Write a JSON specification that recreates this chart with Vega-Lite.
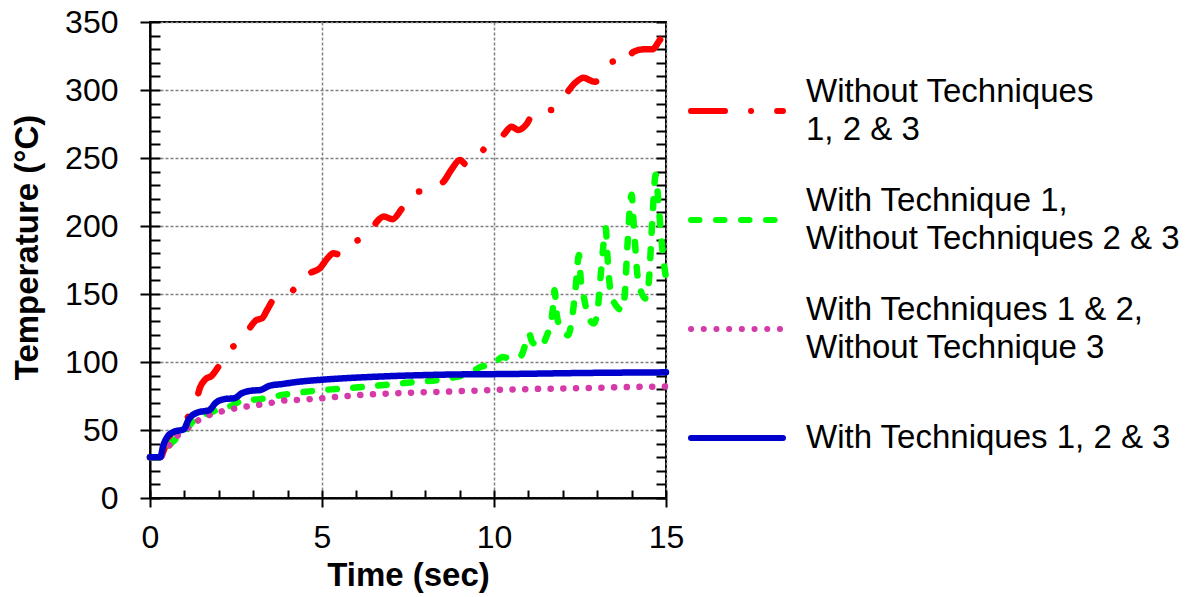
{
  "$schema": "https://vega.github.io/schema/vega-lite/v6.json",
  "autosize": {"type": "none"},
  "padding": {"left": 150, "top": 22, "right": 527, "bottom": 99},
  "width": 516,
  "height": 476,
  "background": "white",
  "config": {
    "view": {"stroke": "black", "strokeWidth": 2},
    "font": "Liberation Sans",
    "axis": {"labelFont": "Liberation Sans", "titleFont": "Liberation Sans", "labelColor": "black", "titleColor": "black", "tickColor": "black", "domainColor": "black"}
  },
  "data": {
    "values": [
      {"series": "Without Techniques 1, 2 & 3", "t": 0, "temp": 30},
      {"series": "Without Techniques 1, 2 & 3", "t": 0.3, "temp": 30},
      {"series": "Without Techniques 1, 2 & 3", "t": 0.4, "temp": 35},
      {"series": "Without Techniques 1, 2 & 3", "t": 0.5, "temp": 42},
      {"series": "Without Techniques 1, 2 & 3", "t": 0.65, "temp": 48},
      {"series": "Without Techniques 1, 2 & 3", "t": 0.8, "temp": 52},
      {"series": "Without Techniques 1, 2 & 3", "t": 1.0, "temp": 57},
      {"series": "Without Techniques 1, 2 & 3", "t": 1.2, "temp": 63},
      {"series": "Without Techniques 1, 2 & 3", "t": 1.35, "temp": 72},
      {"series": "Without Techniques 1, 2 & 3", "t": 1.45, "temp": 81},
      {"series": "Without Techniques 1, 2 & 3", "t": 1.6, "temp": 87},
      {"series": "Without Techniques 1, 2 & 3", "t": 1.8, "temp": 90},
      {"series": "Without Techniques 1, 2 & 3", "t": 2.0, "temp": 97},
      {"series": "Without Techniques 1, 2 & 3", "t": 2.23, "temp": 107},
      {"series": "Without Techniques 1, 2 & 3", "t": 2.45, "temp": 112},
      {"series": "Without Techniques 1, 2 & 3", "t": 2.71, "temp": 117},
      {"series": "Without Techniques 1, 2 & 3", "t": 2.9, "temp": 125},
      {"series": "Without Techniques 1, 2 & 3", "t": 3.1, "temp": 131},
      {"series": "Without Techniques 1, 2 & 3", "t": 3.25, "temp": 132},
      {"series": "Without Techniques 1, 2 & 3", "t": 3.42, "temp": 139},
      {"series": "Without Techniques 1, 2 & 3", "t": 3.6, "temp": 146},
      {"series": "Without Techniques 1, 2 & 3", "t": 3.97, "temp": 148.5},
      {"series": "Without Techniques 1, 2 & 3", "t": 4.2, "temp": 154},
      {"series": "Without Techniques 1, 2 & 3", "t": 4.41, "temp": 162},
      {"series": "Without Techniques 1, 2 & 3", "t": 4.7, "temp": 166},
      {"series": "Without Techniques 1, 2 & 3", "t": 4.94, "temp": 169},
      {"series": "Without Techniques 1, 2 & 3", "t": 5.15, "temp": 176},
      {"series": "Without Techniques 1, 2 & 3", "t": 5.33, "temp": 180},
      {"series": "Without Techniques 1, 2 & 3", "t": 5.52, "temp": 179},
      {"series": "Without Techniques 1, 2 & 3", "t": 5.81, "temp": 187},
      {"series": "Without Techniques 1, 2 & 3", "t": 6.1, "temp": 190},
      {"series": "Without Techniques 1, 2 & 3", "t": 6.36, "temp": 193},
      {"series": "Without Techniques 1, 2 & 3", "t": 6.59, "temp": 203},
      {"series": "Without Techniques 1, 2 & 3", "t": 6.8, "temp": 207},
      {"series": "Without Techniques 1, 2 & 3", "t": 7.05, "temp": 205},
      {"series": "Without Techniques 1, 2 & 3", "t": 7.3, "temp": 212},
      {"series": "Without Techniques 1, 2 & 3", "t": 7.52, "temp": 221},
      {"series": "Without Techniques 1, 2 & 3", "t": 7.75, "temp": 225},
      {"series": "Without Techniques 1, 2 & 3", "t": 8.02, "temp": 226},
      {"series": "Without Techniques 1, 2 & 3", "t": 8.25, "temp": 229},
      {"series": "Without Techniques 1, 2 & 3", "t": 8.53, "temp": 232.6},
      {"series": "Without Techniques 1, 2 & 3", "t": 8.75, "temp": 241},
      {"series": "Without Techniques 1, 2 & 3", "t": 9.01, "temp": 248.5},
      {"series": "Without Techniques 1, 2 & 3", "t": 9.2, "temp": 245},
      {"series": "Without Techniques 1, 2 & 3", "t": 9.4, "temp": 246.6},
      {"series": "Without Techniques 1, 2 & 3", "t": 9.6, "temp": 253},
      {"series": "Without Techniques 1, 2 & 3", "t": 9.83, "temp": 260},
      {"series": "Without Techniques 1, 2 & 3", "t": 10.05, "temp": 263},
      {"series": "Without Techniques 1, 2 & 3", "t": 10.27, "temp": 267},
      {"series": "Without Techniques 1, 2 & 3", "t": 10.51, "temp": 273},
      {"series": "Without Techniques 1, 2 & 3", "t": 10.71, "temp": 270.6},
      {"series": "Without Techniques 1, 2 & 3", "t": 10.95, "temp": 275},
      {"series": "Without Techniques 1, 2 & 3", "t": 11.14, "temp": 283},
      {"series": "Without Techniques 1, 2 & 3", "t": 11.4, "temp": 285},
      {"series": "Without Techniques 1, 2 & 3", "t": 11.67, "temp": 285.3},
      {"series": "Without Techniques 1, 2 & 3", "t": 11.85, "temp": 290},
      {"series": "Without Techniques 1, 2 & 3", "t": 12.06, "temp": 296},
      {"series": "Without Techniques 1, 2 & 3", "t": 12.35, "temp": 305},
      {"series": "Without Techniques 1, 2 & 3", "t": 12.6, "temp": 309},
      {"series": "Without Techniques 1, 2 & 3", "t": 12.93, "temp": 306},
      {"series": "Without Techniques 1, 2 & 3", "t": 13.1, "temp": 309},
      {"series": "Without Techniques 1, 2 & 3", "t": 13.23, "temp": 313.5},
      {"series": "Without Techniques 1, 2 & 3", "t": 13.47, "temp": 321},
      {"series": "Without Techniques 1, 2 & 3", "t": 13.75, "temp": 318.4},
      {"series": "Without Techniques 1, 2 & 3", "t": 14.05, "temp": 328},
      {"series": "Without Techniques 1, 2 & 3", "t": 14.35, "temp": 330},
      {"series": "Without Techniques 1, 2 & 3", "t": 14.61, "temp": 330},
      {"series": "Without Techniques 1, 2 & 3", "t": 14.8, "temp": 336},
      {"series": "Without Techniques 1, 2 & 3", "t": 15, "temp": 343},

      {"series": "With Technique 1, Without Techniques 2 & 3", "t": 0, "temp": 30},
      {"series": "With Technique 1, Without Techniques 2 & 3", "t": 0.3, "temp": 30},
      {"series": "With Technique 1, Without Techniques 2 & 3", "t": 0.4, "temp": 33},
      {"series": "With Technique 1, Without Techniques 2 & 3", "t": 0.54, "temp": 38},
      {"series": "With Technique 1, Without Techniques 2 & 3", "t": 0.79, "temp": 44.4},
      {"series": "With Technique 1, Without Techniques 2 & 3", "t": 1.08, "temp": 50.5},
      {"series": "With Technique 1, Without Techniques 2 & 3", "t": 1.2, "temp": 55},
      {"series": "With Technique 1, Without Techniques 2 & 3", "t": 1.38, "temp": 59},
      {"series": "With Technique 1, Without Techniques 2 & 3", "t": 1.77, "temp": 62.8},
      {"series": "With Technique 1, Without Techniques 2 & 3", "t": 2.11, "temp": 66.5},
      {"series": "With Technique 1, Without Techniques 2 & 3", "t": 2.36, "temp": 67.8},
      {"series": "With Technique 1, Without Techniques 2 & 3", "t": 2.66, "temp": 71.5},
      {"series": "With Technique 1, Without Techniques 2 & 3", "t": 3.2, "temp": 72.7},
      {"series": "With Technique 1, Without Techniques 2 & 3", "t": 3.84, "temp": 75.7},
      {"series": "With Technique 1, Without Techniques 2 & 3", "t": 4.82, "temp": 78.9},
      {"series": "With Technique 1, Without Techniques 2 & 3", "t": 5.8, "temp": 80.8},
      {"series": "With Technique 1, Without Techniques 2 & 3", "t": 6.59, "temp": 82.6},
      {"series": "With Technique 1, Without Techniques 2 & 3", "t": 7.57, "temp": 85},
      {"series": "With Technique 1, Without Techniques 2 & 3", "t": 8.56, "temp": 87.5},
      {"series": "With Technique 1, Without Techniques 2 & 3", "t": 9.3, "temp": 92},
      {"series": "With Technique 1, Without Techniques 2 & 3", "t": 9.61, "temp": 96.3},
      {"series": "With Technique 1, Without Techniques 2 & 3", "t": 10.0, "temp": 98.8},
      {"series": "With Technique 1, Without Techniques 2 & 3", "t": 10.24, "temp": 103.7},
      {"series": "With Technique 1, Without Techniques 2 & 3", "t": 10.48, "temp": 102.5},
      {"series": "With Technique 1, Without Techniques 2 & 3", "t": 10.78, "temp": 104.4},
      {"series": "With Technique 1, Without Techniques 2 & 3", "t": 10.92, "temp": 113.5},
      {"series": "With Technique 1, Without Techniques 2 & 3", "t": 11.02, "temp": 120.9},
      {"series": "With Technique 1, Without Techniques 2 & 3", "t": 11.11, "temp": 114.7},
      {"series": "With Technique 1, Without Techniques 2 & 3", "t": 11.36, "temp": 111},
      {"series": "With Technique 1, Without Techniques 2 & 3", "t": 11.5, "temp": 117.2},
      {"series": "With Technique 1, Without Techniques 2 & 3", "t": 11.7, "temp": 136.9},
      {"series": "With Technique 1, Without Techniques 2 & 3", "t": 11.76, "temp": 152.8},
      {"series": "With Technique 1, Without Techniques 2 & 3", "t": 11.82, "temp": 135.6},
      {"series": "With Technique 1, Without Techniques 2 & 3", "t": 11.92, "temp": 125.8},
      {"series": "With Technique 1, Without Techniques 2 & 3", "t": 12.15, "temp": 119.7},
      {"series": "With Technique 1, Without Techniques 2 & 3", "t": 12.23, "temp": 125.8},
      {"series": "With Technique 1, Without Techniques 2 & 3", "t": 12.37, "temp": 154},
      {"series": "With Technique 1, Without Techniques 2 & 3", "t": 12.47, "temp": 178.6},
      {"series": "With Technique 1, Without Techniques 2 & 3", "t": 12.52, "temp": 161.4},
      {"series": "With Technique 1, Without Techniques 2 & 3", "t": 12.62, "temp": 146.7},
      {"series": "With Technique 1, Without Techniques 2 & 3", "t": 12.73, "temp": 134.4},
      {"series": "With Technique 1, Without Techniques 2 & 3", "t": 12.9, "temp": 128.3},
      {"series": "With Technique 1, Without Techniques 2 & 3", "t": 13.0, "temp": 135.6},
      {"series": "With Technique 1, Without Techniques 2 & 3", "t": 13.12, "temp": 168.8},
      {"series": "With Technique 1, Without Techniques 2 & 3", "t": 13.25, "temp": 198.3},
      {"series": "With Technique 1, Without Techniques 2 & 3", "t": 13.29, "temp": 181.1},
      {"series": "With Technique 1, Without Techniques 2 & 3", "t": 13.39, "temp": 151.6},
      {"series": "With Technique 1, Without Techniques 2 & 3", "t": 13.54, "temp": 141.8},
      {"series": "With Technique 1, Without Techniques 2 & 3", "t": 13.73, "temp": 138.1},
      {"series": "With Technique 1, Without Techniques 2 & 3", "t": 13.8, "temp": 149.1},
      {"series": "With Technique 1, Without Techniques 2 & 3", "t": 13.88, "temp": 186},
      {"series": "With Technique 1, Without Techniques 2 & 3", "t": 14.0, "temp": 222.9},
      {"series": "With Technique 1, Without Techniques 2 & 3", "t": 14.07, "temp": 198.3},
      {"series": "With Technique 1, Without Techniques 2 & 3", "t": 14.17, "temp": 163.9},
      {"series": "With Technique 1, Without Techniques 2 & 3", "t": 14.26, "temp": 152.8},
      {"series": "With Technique 1, Without Techniques 2 & 3", "t": 14.41, "temp": 146.7},
      {"series": "With Technique 1, Without Techniques 2 & 3", "t": 14.5, "temp": 159},
      {"series": "With Technique 1, Without Techniques 2 & 3", "t": 14.6, "temp": 203.2},
      {"series": "With Technique 1, Without Techniques 2 & 3", "t": 14.7, "temp": 237.6},
      {"series": "With Technique 1, Without Techniques 2 & 3", "t": 14.8, "temp": 210.6},
      {"series": "With Technique 1, Without Techniques 2 & 3", "t": 14.92, "temp": 176.2},
      {"series": "With Technique 1, Without Techniques 2 & 3", "t": 15, "temp": 162},

      {"series": "With Techniques 1 & 2, Without Technique 3", "t": 0, "temp": 30},
      {"series": "With Techniques 1 & 2, Without Technique 3", "t": 0.3, "temp": 30},
      {"series": "With Techniques 1 & 2, Without Technique 3", "t": 0.4, "temp": 33},
      {"series": "With Techniques 1 & 2, Without Technique 3", "t": 0.54, "temp": 38},
      {"series": "With Techniques 1 & 2, Without Technique 3", "t": 0.79, "temp": 45.6},
      {"series": "With Techniques 1 & 2, Without Technique 3", "t": 1.08, "temp": 51},
      {"series": "With Techniques 1 & 2, Without Technique 3", "t": 1.38, "temp": 56.7},
      {"series": "With Techniques 1 & 2, Without Technique 3", "t": 1.67, "temp": 60.4},
      {"series": "With Techniques 1 & 2, Without Technique 3", "t": 2.02, "temp": 63.3},
      {"series": "With Techniques 1 & 2, Without Technique 3", "t": 2.36, "temp": 65.3},
      {"series": "With Techniques 1 & 2, Without Technique 3", "t": 2.75, "temp": 67},
      {"series": "With Techniques 1 & 2, Without Technique 3", "t": 3.1, "temp": 68.3},
      {"series": "With Techniques 1 & 2, Without Technique 3", "t": 3.49, "temp": 69.8},
      {"series": "With Techniques 1 & 2, Without Technique 3", "t": 3.84, "temp": 71.5},
      {"series": "With Techniques 1 & 2, Without Technique 3", "t": 4.21, "temp": 72},
      {"series": "With Techniques 1 & 2, Without Technique 3", "t": 4.92, "temp": 73.2},
      {"series": "With Techniques 1 & 2, Without Technique 3", "t": 5.6, "temp": 74.7},
      {"series": "With Techniques 1 & 2, Without Technique 3", "t": 6.59, "temp": 76.4},
      {"series": "With Techniques 1 & 2, Without Technique 3", "t": 7.77, "temp": 77.6},
      {"series": "With Techniques 1 & 2, Without Technique 3", "t": 8.85, "temp": 78.4},
      {"series": "With Techniques 1 & 2, Without Technique 3", "t": 9.93, "temp": 79.4},
      {"series": "With Techniques 1 & 2, Without Technique 3", "t": 11.0, "temp": 80.1},
      {"series": "With Techniques 1 & 2, Without Technique 3", "t": 12.5, "temp": 80.8},
      {"series": "With Techniques 1 & 2, Without Technique 3", "t": 13.97, "temp": 81.6},
      {"series": "With Techniques 1 & 2, Without Technique 3", "t": 15, "temp": 82},

      {"series": "With Techniques 1, 2 & 3", "t": 0, "temp": 30},
      {"series": "With Techniques 1, 2 & 3", "t": 0.3, "temp": 30},
      {"series": "With Techniques 1, 2 & 3", "t": 0.38, "temp": 38},
      {"series": "With Techniques 1, 2 & 3", "t": 0.49, "temp": 44.4},
      {"series": "With Techniques 1, 2 & 3", "t": 0.69, "temp": 48.6},
      {"series": "With Techniques 1, 2 & 3", "t": 0.98, "temp": 50.5},
      {"series": "With Techniques 1, 2 & 3", "t": 1.13, "temp": 58},
      {"series": "With Techniques 1, 2 & 3", "t": 1.38, "temp": 62.8},
      {"series": "With Techniques 1, 2 & 3", "t": 1.72, "temp": 64.6},
      {"series": "With Techniques 1, 2 & 3", "t": 1.92, "temp": 70.2},
      {"series": "With Techniques 1, 2 & 3", "t": 2.16, "temp": 72.7},
      {"series": "With Techniques 1, 2 & 3", "t": 2.46, "temp": 73.4},
      {"series": "With Techniques 1, 2 & 3", "t": 2.66, "temp": 76.9},
      {"series": "With Techniques 1, 2 & 3", "t": 2.95, "temp": 78.9},
      {"series": "With Techniques 1, 2 & 3", "t": 3.2, "temp": 79.4},
      {"series": "With Techniques 1, 2 & 3", "t": 3.49, "temp": 82.6},
      {"series": "With Techniques 1, 2 & 3", "t": 3.84, "temp": 83.8},
      {"series": "With Techniques 1, 2 & 3", "t": 4.33, "temp": 85.5},
      {"series": "With Techniques 1, 2 & 3", "t": 5.02, "temp": 87},
      {"series": "With Techniques 1, 2 & 3", "t": 6.59, "temp": 89.2},
      {"series": "With Techniques 1, 2 & 3", "t": 8.56, "temp": 90.7},
      {"series": "With Techniques 1, 2 & 3", "t": 10.52, "temp": 91.2},
      {"series": "With Techniques 1, 2 & 3", "t": 12.5, "temp": 91.9},
      {"series": "With Techniques 1, 2 & 3", "t": 15, "temp": 92.4}
    ]
  },
  "layer": [
    {
      "mark": {"type": "line", "strokeWidth": 6.5, "strokeCap": "round", "strokeJoin": "round", "interpolate": "monotone"},
      "encoding": {
        "x": {
          "field": "t", "type": "quantitative",
          "scale": {"domain": [0, 15], "nice": false, "zero": false},
          "axis": {
            "orient": "bottom", "values": [0, 5, 10, 15], "title": "Time (sec)",
            "titleFontSize": 33, "titleFontWeight": "bold", "titleX": 258, "titleY": 87,
            "titleAlign": "center", "titleBaseline": "alphabetic",
            "labelFontSize": 32, "labelPadding": 15, "labelFlush": false, "labelOverlap": false,
            "tickSize": 9, "tickWidth": 2, "domainWidth": 2,
            "grid": true, "gridColor": "#808080", "gridDash": [3, 2], "gridWidth": 1.5
          }
        },
        "y": {
          "field": "temp", "type": "quantitative",
          "scale": {"domain": [0, 350], "nice": false, "zero": true},
          "axis": {
            "orient": "left", "values": [0, 50, 100, 150, 200, 250, 300, 350], "title": "Temperature (°C)",
            "titleFontSize": 33, "titleFontWeight": "bold", "titleX": -123, "titleY": 225,
            "titleAngle": -90, "titleAlign": "center", "titleBaseline": "middle",
            "labelFontSize": 32, "labelPadding": 22, "labelFlush": false, "labelOverlap": false,
            "tickSize": 10, "tickWidth": 2, "domainWidth": 2,
            "grid": true, "gridColor": "#808080", "gridDash": [3, 2], "gridWidth": 1.5
          }
        },
        "color": {
          "field": "series", "type": "nominal",
          "scale": {
            "domain": ["Without Techniques 1, 2 & 3", "With Technique 1, Without Techniques 2 & 3", "With Techniques 1 & 2, Without Technique 3", "With Techniques 1, 2 & 3"],
            "range": ["#FF0000", "#00FF00", "#D43BA8", "#0000CC"]
          },
          "legend": {
            "orient": "none", "legendX": 538, "legendY": 40, "title": null, "padding": 0,
            "symbolType": "stroke", "symbolSize": 8464, "symbolStrokeWidth": 6,
            "labelFontSize": 33, "labelFont": "Liberation Sans", "labelColor": "black",
            "labelOffset": 20, "rowPadding": 24, "labelLimit": 1000,
            "labelExpr": "datum.label == 'Without Techniques 1, 2 & 3' ? ['Without Techniques', '1, 2 & 3'] : datum.label == 'With Technique 1, Without Techniques 2 & 3' ? ['With Technique 1,', 'Without Techniques 2 & 3'] : datum.label == 'With Techniques 1 & 2, Without Technique 3' ? ['With Techniques 1 & 2,', 'Without Technique 3'] : datum.label",
            "encode": {
              "symbols": {"update": {
                "strokeCap": {"value": "round"},
                "strokeDash": {"signal": "datum.label == 'With Techniques 1 & 2, Without Technique 3' ? [0.1, 27.5] : datum.label == 'With Technique 1, Without Techniques 2 & 3' ? [17, 20] : datum.label == 'Without Techniques 1, 2 & 3' ? [32, 11, 0.1, 11] : [1, 0]"}
              }},
              "labels": {"update": {"lineHeight": {"value": 38}, "dy": {"signal": "datum.label == 'With Techniques 1, 2 & 3' ? 0 : -19"}}}
            }
          }
        },
        "strokeDash": {
          "field": "series", "type": "nominal",
          "scale": {
            "domain": ["Without Techniques 1, 2 & 3", "With Technique 1, Without Techniques 2 & 3", "With Techniques 1 & 2, Without Technique 3", "With Techniques 1, 2 & 3"],
            "range": [[34, 26, 0.1, 26], [8.5, 16.5], [0.1, 12.6], [1, 0]]
          }
        }
      }
    },
    {
      "mark": {"type": "point", "opacity": 0},
      "encoding": {
        "x": {
          "field": "t", "type": "quantitative",
          "axis": {"orient": "bottom", "offset": -8, "values": [0, 1, 2, 3, 4, 5, 6, 7, 8, 9, 10, 11, 12, 13, 14, 15], "tickSize": 8, "tickWidth": 2, "labels": false, "domain": false, "grid": false, "title": null}
        },
        "y": {
          "field": "temp", "type": "quantitative",
          "axis": {"orient": "left", "offset": -10, "values": [0, 10, 20, 30, 40, 50, 60, 70, 80, 90, 100, 110, 120, 130, 140, 150, 160, 170, 180, 190, 200, 210, 220, 230, 240, 250, 260, 270, 280, 290, 300, 310, 320, 330, 340, 350], "tickSize": 10, "tickWidth": 2, "labels": false, "domain": false, "grid": false, "title": null}
        }
      }
    },
    {
      "mark": {"type": "point", "opacity": 0},
      "encoding": {
        "x": {"field": "t", "type": "quantitative", "axis": null},
        "y": {
          "field": "temp", "type": "quantitative",
          "axis": {"orient": "right", "offset": -10, "values": [0, 10, 20, 30, 40, 50, 60, 70, 80, 90, 100, 110, 120, 130, 140, 150, 160, 170, 180, 190, 200, 210, 220, 230, 240, 250, 260, 270, 280, 290, 300, 310, 320, 330, 340, 350], "tickSize": 10, "tickWidth": 2, "labels": false, "domain": false, "grid": false, "title": null}
        }
      }
    }
  ],
  "resolve": {"axis": {"x": "independent", "y": "independent"}}
}
